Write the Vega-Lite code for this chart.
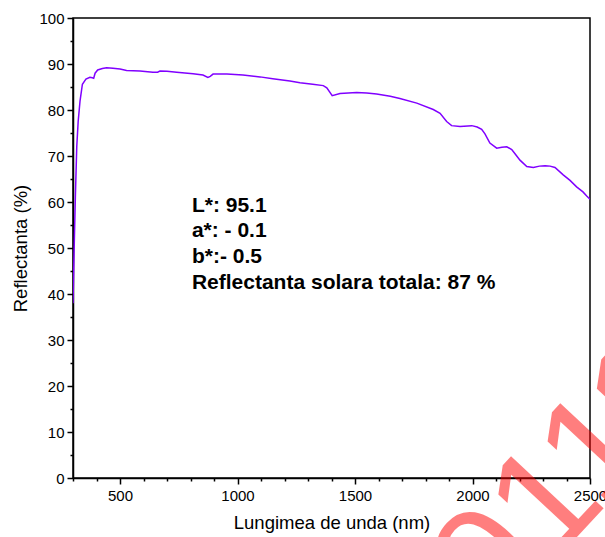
{
  "$schema": "https://vega.github.io/schema/vega-lite/v6.json",
  "width": 517,
  "height": 460,
  "autosize": {"type": "none"},
  "padding": {"left": 73, "top": 18, "right": 15, "bottom": 59},
  "background": "white",
  "config": {
    "view": {"stroke": "black", "strokeWidth": 1.5},
    "axis": {
      "grid": false,
      "labelFont": "Liberation Sans",
      "titleFont": "Liberation Sans",
      "labelColor": "black",
      "titleColor": "black",
      "domainColor": "black",
      "tickColor": "black",
      "domainWidth": 1.5,
      "tickWidth": 1.5,
      "labelFontSize": 15,
      "titleFontSize": 18.5,
      "titleFontWeight": "normal"
    }
  },
  "datasets": {
    "spectrum": [
      {"nm": 300, "R": 38}, {"nm": 305, "R": 50}, {"nm": 310, "R": 61}, {"nm": 316, "R": 72},
      {"nm": 322, "R": 77.5}, {"nm": 330, "R": 82}, {"nm": 340, "R": 85.6}, {"nm": 355, "R": 86.7},
      {"nm": 372, "R": 87.1}, {"nm": 382, "R": 87.0}, {"nm": 388, "R": 86.9}, {"nm": 394, "R": 88.0},
      {"nm": 405, "R": 88.7}, {"nm": 425, "R": 89.0}, {"nm": 443, "R": 89.2}, {"nm": 470, "R": 89.1},
      {"nm": 500, "R": 88.9}, {"nm": 528, "R": 88.6}, {"nm": 585, "R": 88.5}, {"nm": 640, "R": 88.2},
      {"nm": 660, "R": 88.2}, {"nm": 670, "R": 88.45}, {"nm": 700, "R": 88.4}, {"nm": 741, "R": 88.2},
      {"nm": 811, "R": 87.9}, {"nm": 853, "R": 87.6}, {"nm": 874, "R": 87.1}, {"nm": 884, "R": 87.3},
      {"nm": 896, "R": 87.8}, {"nm": 955, "R": 87.8}, {"nm": 1023, "R": 87.6}, {"nm": 1096, "R": 87.2},
      {"nm": 1150, "R": 86.8}, {"nm": 1223, "R": 86.3}, {"nm": 1266, "R": 85.9}, {"nm": 1320, "R": 85.6},
      {"nm": 1365, "R": 85.3}, {"nm": 1380, "R": 84.8}, {"nm": 1403, "R": 83.1}, {"nm": 1436, "R": 83.6},
      {"nm": 1507, "R": 83.8}, {"nm": 1550, "R": 83.7}, {"nm": 1592, "R": 83.5}, {"nm": 1650, "R": 83.0},
      {"nm": 1691, "R": 82.5}, {"nm": 1763, "R": 81.5}, {"nm": 1833, "R": 80.1}, {"nm": 1862, "R": 79.3},
      {"nm": 1890, "R": 77.5}, {"nm": 1911, "R": 76.6}, {"nm": 1947, "R": 76.4}, {"nm": 1997, "R": 76.6},
      {"nm": 2020, "R": 76.3}, {"nm": 2039, "R": 75.8}, {"nm": 2053, "R": 74.8}, {"nm": 2074, "R": 72.8},
      {"nm": 2103, "R": 71.7}, {"nm": 2125, "R": 71.9}, {"nm": 2146, "R": 72.0}, {"nm": 2167, "R": 71.4},
      {"nm": 2185, "R": 70.2}, {"nm": 2202, "R": 69.1}, {"nm": 2231, "R": 67.7}, {"nm": 2259, "R": 67.5},
      {"nm": 2285, "R": 67.8}, {"nm": 2309, "R": 67.9}, {"nm": 2330, "R": 67.8}, {"nm": 2351, "R": 67.5},
      {"nm": 2386, "R": 65.9}, {"nm": 2415, "R": 64.7}, {"nm": 2443, "R": 63.3}, {"nm": 2470, "R": 62.2},
      {"nm": 2486, "R": 61.3}, {"nm": 2500, "R": 60.6}
    ],
    "notes": [
      {"nm": 806, "R": 57.9, "label": "L*: 95.1"},
      {"nm": 806, "R": 52.3, "label": "a*: - 0.1"},
      {"nm": 806, "R": 46.7, "label": "b*:- 0.5"},
      {"nm": 806, "R": 41.0, "label": "Reflectanta solara totala: 87 %"}
    ],
    "stamp": [
      {"nm": 1853, "R": -45.2, "label": "201119"}
    ]
  },
  "resolve": {"axis": {"x": "independent", "y": "independent"}},
  "layer": [
    {
      "data": {"name": "spectrum"},
      "mark": {"type": "line", "color": "#8000ff", "strokeWidth": 1.5, "clip": true},
      "encoding": {
        "x": {
          "field": "nm", "type": "quantitative",
          "scale": {"domain": [300, 2500], "nice": false, "zero": false},
          "axis": {"orient": "bottom", "values": [500, 1000, 1500, 2000, 2500], "format": "d", "tickSize": 6, "labelPadding": 4, "title": "Lungimea de unda (nm)", "titlePadding": 10, "labelFlush": false, "labelOverlap": false}
        },
        "y": {
          "field": "R", "type": "quantitative",
          "scale": {"domain": [0, 100], "nice": false},
          "axis": {"orient": "left", "values": [0, 10, 20, 30, 40, 50, 60, 70, 80, 90, 100], "format": "d", "tickSize": 6, "labelPadding": 3, "title": "Reflectanta (%)", "titlePadding": 8, "labelFlush": false, "labelOverlap": false}
        }
      }
    },
    {
      "data": {"name": "spectrum"},
      "mark": {"type": "line", "strokeOpacity": 0},
      "encoding": {
        "x": {
          "field": "nm", "type": "quantitative",
          "axis": {"orient": "bottom", "values": [300, 400, 600, 700, 800, 900, 1100, 1200, 1300, 1400, 1600, 1700, 1800, 1900, 2100, 2200, 2300, 2400], "tickSize": 3, "labels": false, "domain": false, "title": null}
        },
        "y": {
          "field": "R", "type": "quantitative",
          "axis": {"orient": "left", "values": [5, 15, 25, 35, 45, 55, 65, 75, 85, 95], "tickSize": 3, "labels": false, "domain": false, "title": null}
        }
      }
    },
    {
      "data": {"name": "notes"},
      "mark": {"type": "text", "align": "left", "baseline": "alphabetic", "font": "Liberation Sans", "fontWeight": "bold", "fontSize": 21, "color": "black"},
      "encoding": {
        "x": {"field": "nm", "type": "quantitative", "axis": null},
        "y": {"field": "R", "type": "quantitative", "axis": null},
        "text": {"field": "label"}
      }
    },
    {
      "data": {"name": "stamp"},
      "mark": {"type": "text", "align": "left", "baseline": "alphabetic", "font": "Liberation Sans", "fontSize": 150, "angle": -47, "color": "#ff0000", "opacity": 0.5, "clip": false},
      "encoding": {
        "x": {"field": "nm", "type": "quantitative", "axis": null},
        "y": {"field": "R", "type": "quantitative", "axis": null},
        "text": {"field": "label"}
      }
    }
  ]
}
